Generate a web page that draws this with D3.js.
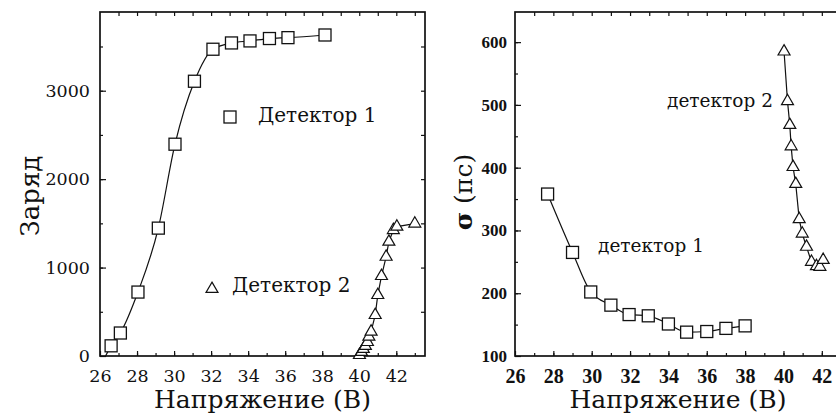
<!DOCTYPE html>
<html>
<head>
<meta charset="utf-8">
<script src="https://cdn.jsdelivr.net/npm/d3@7"></script>
<style>
body { margin: 0; background: #fff; }
</style>
</head>
<body>
<div id="root"></div>
<script>
// left panel: charge vs voltage
var qVolt1 = [26.6, 27.1, 28.05, 29.15, 30.05, 31.1, 32.1, 33.1, 34.1, 35.15, 36.15, 38.15];
var qCharge1 = [115, 260, 723, 1446, 2395, 3107, 3469, 3540, 3563, 3590, 3600, 3630];
var qStart1 = [26.3, 0]; // where the fitted curve leaves the axis
var qVolt2 = [40.01, 40.12, 40.22, 40.33, 40.44, 40.52, 40.64, 40.86, 41.0, 41.2, 41.45, 41.6, 41.84, 42.03, 43.0];
var qCharge2 = [11, 45, 79, 113, 158, 218, 275, 463, 689, 904, 1122, 1292, 1424, 1463, 1497];
var qTicks = [0, 1000, 2000, 3000];

// right panel: time resolution vs voltage
var sVolt1 = [27.7, 29, 29.95, 31, 31.95, 32.95, 34, 34.95, 36, 37, 38];
var sSigma1 = [358, 265, 202, 181, 166, 164, 151, 138, 139, 144, 148];
var sVolt2 = [40.03, 40.21, 40.33, 40.4, 40.5, 40.64, 40.82, 40.98, 41.2, 41.46, 41.72, 41.9, 42.07];
var sSigma2 = [585, 506, 468, 434, 401, 374, 318, 295, 274, 250, 243, 242, 253];
var sTicks = [100, 200, 300, 400, 500, 600];

var voltTicks = [26, 28, 30, 32, 34, 36, 38, 40, 42];

var ink = "#111";

var svg = d3.select("#root")
    .append("svg")
    .attr("width", 836)
    .attr("height", 413)
    .style("font-family", "'DejaVu Serif', serif");

function square(g, x, y, xs, ys) {
    g.selectAll(null)
        .data(xs)
        .enter()
        .append("rect")
        .attr("x", function (d) { return x(d) - 6; })
        .attr("y", function (d, i) { return y(ys[i]) - 6; })
        .attr("width", 12)
        .attr("height", 12)
        .attr("fill", "#fff")
        .attr("stroke", ink)
        .attr("stroke-width", 1.3);
}

function triangle(g, x, y, xs, ys) {
    g.selectAll(null)
        .data(xs)
        .enter()
        .append("path")
        .attr("d", d3.symbol(d3.symbolTriangle, 62))
        .attr("transform", function (d, i) { return "translate(" + x(d) + "," + y(ys[i]) + ")"; })
        .attr("fill", "#fff")
        .attr("stroke", ink)
        .attr("stroke-width", 1.2);
}

function curve(g, x, y, xs, ys, c) {
    var pts = xs.map(function (d, i) { return [d, ys[i]]; });
    g.append("path")
        .datum(pts)
        .attr("fill", "none")
        .attr("stroke", ink)
        .attr("stroke-width", 1.2)
        .attr("d", d3.line().curve(c)
            .x(function (d) { return x(d[0]); })
            .y(function (d) { return y(d[1]); }));
}

function noDomain(a) { a.select(".domain").remove(); }

function axes(g, x, y, yMinorStep, o) {
    var bottom = y.range()[0], top = y.range()[1];
    var left = x.range()[0], right = x.range()[1];
    var xMinor = d3.range(27, x.domain()[1], 1);
    var yMinor = d3.range(y.domain()[0] + yMinorStep, y.domain()[1], yMinorStep);

    g.append("g").attr("transform", "translate(0," + bottom + ")")
        .call(d3.axisBottom(x).tickValues(xMinor).tickSize(-3).tickFormat(""))
        .call(noDomain);
    g.append("g").attr("transform", "translate(0," + bottom + ")")
        .call(d3.axisBottom(x).tickValues(voltTicks).tickSize(-5).tickPadding(o.xPad).tickFormat(d3.format("d")))
        .call(noDomain)
        .selectAll("text")
        .style("font-family", o.tickFont)
        .style("font-size", o.xSize)
        .style("font-weight", o.weight)
        .attr("fill", ink);

    g.append("g").attr("transform", "translate(0," + top + ")")
        .call(d3.axisTop(x).tickValues(xMinor).tickSize(-4).tickFormat(""))
        .call(noDomain);

    g.append("g").attr("transform", "translate(" + left + ",0)")
        .call(d3.axisLeft(y).tickValues(yMinor).tickSize(-3).tickFormat(""))
        .call(noDomain);
    g.append("g").attr("transform", "translate(" + left + ",0)")
        .call(d3.axisLeft(y).tickValues(o.yTicks).tickSize(-6).tickPadding(o.yPad).tickFormat(d3.format("d")))
        .call(noDomain)
        .selectAll("text")
        .style("font-family", o.tickFont)
        .style("font-size", o.ySize)
        .style("font-weight", o.weight)
        .attr("fill", ink);

    g.append("g").attr("transform", "translate(" + right + ",0)")
        .call(d3.axisRight(y).tickValues(yMinor).tickSize(-4).tickFormat(""))
        .call(noDomain);

    g.selectAll(".tick line").attr("stroke", ink).attr("stroke-width", 1.2);

    g.append("rect")
        .attr("x", left).attr("y", top)
        .attr("width", right - left).attr("height", bottom - top)
        .attr("fill", "none").attr("stroke", ink).attr("stroke-width", 1.7);

    g.append("text")
        .attr("x", (left + right) / 2)
        .attr("y", 408)
        .attr("text-anchor", "middle")
        .style("font-size", "25px")
        .attr("fill", ink)
        .text("Напряжение (В)");
}

// ---- left panel
var xq = d3.scaleLinear().domain([26, 43.55]).range([100, 425]);
var yq = d3.scaleLinear().domain([0, 3890]).range([356, 12]);
var gq = svg.append("g");

axes(gq, xq, yq, 500, {
    xPad: 14, yPad: 10, yTicks: qTicks,
    tickFont: "'DejaVu Serif', serif", xSize: "17.5px", ySize: "17.5px", weight: "normal"
});

curve(gq, xq, yq, [qStart1[0]].concat(qVolt1), [qStart1[1]].concat(qCharge1), d3.curveMonotoneX);
curve(gq, xq, yq, qVolt2, qCharge2, d3.curveLinear);
square(gq, xq, yq, qVolt1, qCharge1);
triangle(gq, xq, yq, qVolt2, qCharge2);

gq.append("text")
    .attr("transform", "translate(39,196) rotate(-90)")
    .attr("text-anchor", "middle")
    .style("font-size", "26px")
    .attr("fill", ink)
    .text("Заряд");

gq.append("rect").attr("x", 224).attr("y", 111).attr("width", 12).attr("height", 12)
    .attr("fill", "#fff").attr("stroke", ink).attr("stroke-width", 1.3);
gq.append("text").attr("x", 258).attr("y", 122).style("font-size", "20px").attr("fill", ink).text("Детектор 1");
gq.append("path").attr("d", d3.symbol(d3.symbolTriangle, 62))
    .attr("transform", "translate(212,289)")
    .attr("fill", "#fff").attr("stroke", ink).attr("stroke-width", 1.2);
gq.append("text").attr("x", 232).attr("y", 292).style("font-size", "20px").attr("fill", ink).text("Детектор 2");

// ---- right panel (cut off at the page edge)
var xs = d3.scaleLinear().domain([26, 43]).range([515, 841]);
var ys = d3.scaleLinear().domain([100, 648]).range([356, 12]);
var gs = svg.append("g");

axes(gs, xs, ys, 50, {
    xPad: 13, yPad: 8, yTicks: sTicks,
    tickFont: "'Liberation Serif', serif", xSize: "20px", ySize: "17px", weight: "bold"
});

curve(gs, xs, ys, sVolt1, sSigma1, d3.curveMonotoneX);
curve(gs, xs, ys, sVolt2, sSigma2, d3.curveLinear);
square(gs, xs, ys, sVolt1, sSigma1);
triangle(gs, xs, ys, sVolt2, sSigma2);

var sl = gs.append("text")
    .attr("transform", "translate(472,192) rotate(-90)")
    .attr("text-anchor", "middle")
    .style("font-size", "25px")
    .attr("fill", ink);
sl.append("tspan").style("font-weight", "bold").text("σ");
sl.append("tspan").text(" (пс)");

gs.append("text").attr("x", 667).attr("y", 107).style("font-size", "18.5px").attr("fill", ink).text("детектор 2");
gs.append("text").attr("x", 598).attr("y", 252).style("font-size", "18.5px").attr("fill", ink).text("детектор 1");
</script>
</body>
</html>
